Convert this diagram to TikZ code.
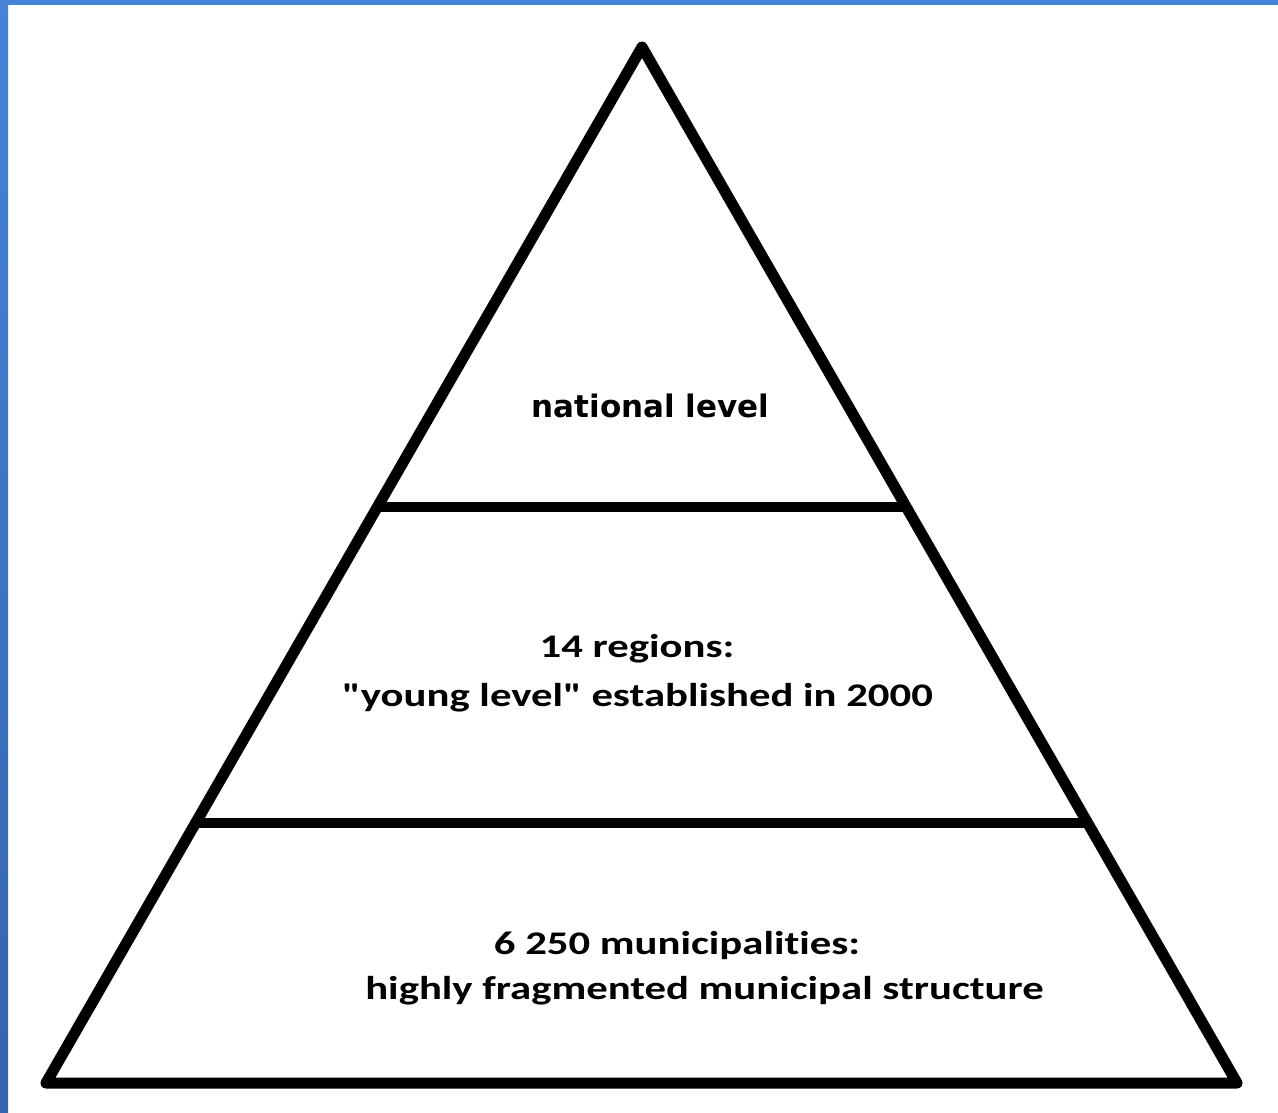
\documentclass[tikz,border=0pt]{standalone}
\usepackage{fontspec}
\usetikzlibrary{calc}
\newfontfamily\calbfont{Carlito}[BoldFont=* Bold,Ligatures=NoCommon]
\newfontfamily\dvbfont{DejaVu Sans Bold}
\newcommand{\widetxt}[1]{\scalebox{1.295}[1]{#1}}
\begin{document}
\begin{tikzpicture}[x=1pt,y=-1pt,
  pyr/.style={line width=11pt,line join=round,line cap=round,draw=black},
  lbl/.style={anchor=base,inner sep=0pt,font=\calbfont\bfseries\fontsize{33}{33}\selectfont},
  toplbl/.style={anchor=base,inner sep=0pt,font=\dvbfont\fontsize{31}{31}\selectfont}]
\useasboundingbox (0,0) rectangle (1278,1113);
\fill[white] (0,0) rectangle (1278,1113);
\fill[color={rgb,255:red,69;green,132;blue,215}] (0,0) rectangle (1278,5);
\shade[top color={rgb,255:red,69;green,132;blue,215},bottom color={rgb,255:red,53;green,100;blue,172}] (0,0) rectangle (8,1113);
\coordinate (apex) at (642,47);
\coordinate (bl) at (46,1083);
\coordinate (br) at (1237,1083);
\coordinate (m1l) at ($(apex)!0.4436!(bl)$);
\coordinate (m1r) at ($(apex)!0.4436!(br)$);
\coordinate (m2l) at ($(apex)!0.7495!(bl)$);
\coordinate (m2r) at ($(apex)!0.7495!(br)$);
\draw[pyr] (apex) -- (bl) -- (br) -- cycle;
\draw[pyr,line cap=butt,line width=10pt] (m1l) -- (m1r);
\draw[pyr,line cap=butt,line width=10pt] (m2l) -- (m2r);
\node[toplbl] (t1) at (650.5,417) {national level};
\node[lbl] (t2a) at (637,657) {\widetxt{14 regions:}};
\node[lbl] (t2b) at (637.5,706) {\widetxt{"young level" established in 2000}};
\node[lbl] (t3a) at (677,954) {\widetxt{6 250 municipalities:}};
\node[lbl] (t3b) at (704.5,999) {\widetxt{highly fragmented municipal structure}};
\end{tikzpicture}
\end{document}
